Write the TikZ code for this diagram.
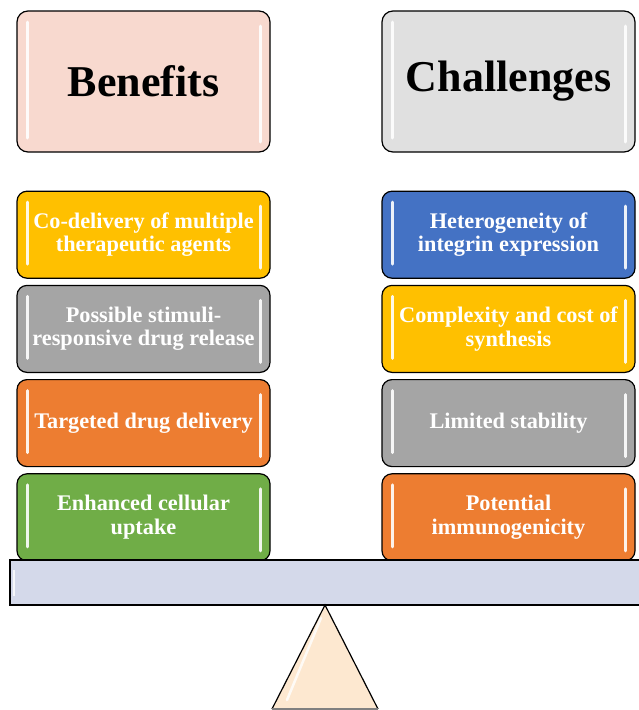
\documentclass[tikz,border=0pt]{standalone}
\usepackage{fontspec}
\setmainfont{Liberation Serif}
\usetikzlibrary{positioning}
\definecolor{titlepink}{HTML}{F8D9CF}
\definecolor{titlegray}{HTML}{E0E0E0}
\definecolor{itemyellow}{HTML}{FFC000}
\definecolor{itemgray}{HTML}{A5A5A5}
\definecolor{itemorange}{HTML}{ED7D31}
\definecolor{itemgreen}{HTML}{70AD47}
\definecolor{itemblue}{HTML}{4472C4}
\definecolor{beamblue}{HTML}{D4D9EA}
\definecolor{basepeach}{HTML}{FDE8D0}
\tikzset{
    shine/.style={
        path picture={
            \draw[white, line width=3pt, line cap=round, opacity=0.9]
                ([xshift=10pt,yshift=-11pt]path picture bounding box.north west) --
                ([xshift=10pt,yshift=14pt]path picture bounding box.south west);
            \draw[white, line width=3pt, line cap=round, opacity=0.9]
                ([xshift=-10pt,yshift=-15pt]path picture bounding box.north east) --
                ([xshift=-10pt,yshift=10pt]path picture bounding box.south east);
        }
    },
    titlebox/.style={
        rectangle,
        rounded corners=11pt,
        draw=black,
        line width=1.2pt,
        minimum width=253pt,
        minimum height=141pt,
        font=\fontsize{44}{48}\selectfont\bfseries,
        shine
    },
    itembox/.style={
        rectangle,
        rounded corners=10pt,
        draw=black,
        line width=1.2pt,
        minimum width=253pt,
        minimum height=87pt,
        align=center,
        inner sep=4pt,
        text=white,
        font=\fontsize{22.3}{23.5}\selectfont\bfseries,
        shine
    }
}

\begin{document}
\begin{tikzpicture}[x=1pt, y=-1pt, node distance=6pt]
    \useasboundingbox (0,0) rectangle (639,710);

    % the two sides of the scale
    \node[titlebox, fill=titlepink] (benefits) at (143.5,81.5) {Benefits};
    \node[titlebox, fill=titlegray] (challenges) at (508.5,81.5) {Challenges};

    \node[itembox, fill=itemyellow, below=38pt of benefits] (codelivery) {Co-delivery of multiple\\therapeutic agents};
    \node[itembox, fill=itemgray, below=of codelivery] (stimuli) {Possible stimuli-\\responsive drug release};
    \node[itembox, fill=itemorange, below=of stimuli] (targeted) {Targeted drug delivery};
    \node[itembox, fill=itemgreen, below=of targeted] (uptake) {Enhanced cellular\\uptake};

    \node[itembox, fill=itemblue, below=38pt of challenges] (hetero) {Heterogeneity of\\integrin expression};
    \node[itembox, fill=itemyellow, below=of hetero] (cost) {Complexity and cost of\\synthesis};
    \node[itembox, fill=itemgray, below=of cost] (stability) {Limited stability};
    \node[itembox, fill=itemorange, below=of stability] (immuno) {Potential\\immunogenicity};

    % beam and pivot
    \node[rectangle, draw=black, line width=1.2pt, fill=beamblue,
          minimum width=640pt, minimum height=45pt] (beam) at (330,582.5) {};
    \draw[white, line width=2pt, opacity=0.8] (14,570) -- (14,596);
    \coordinate (apex) at (325,605);
    \fill[basepeach] (apex) -- (272,709) -- (378,709) -- cycle;
    \draw[white, line width=2.5pt, opacity=0.8, line cap=round] (321,618) -- (287,700);
    \draw[black, line width=1.2pt] (272,709) -- (apex) -- (378,709);
    \draw[gray, line width=1.2pt] (272,709) -- (378,709);
\end{tikzpicture}
\end{document}
